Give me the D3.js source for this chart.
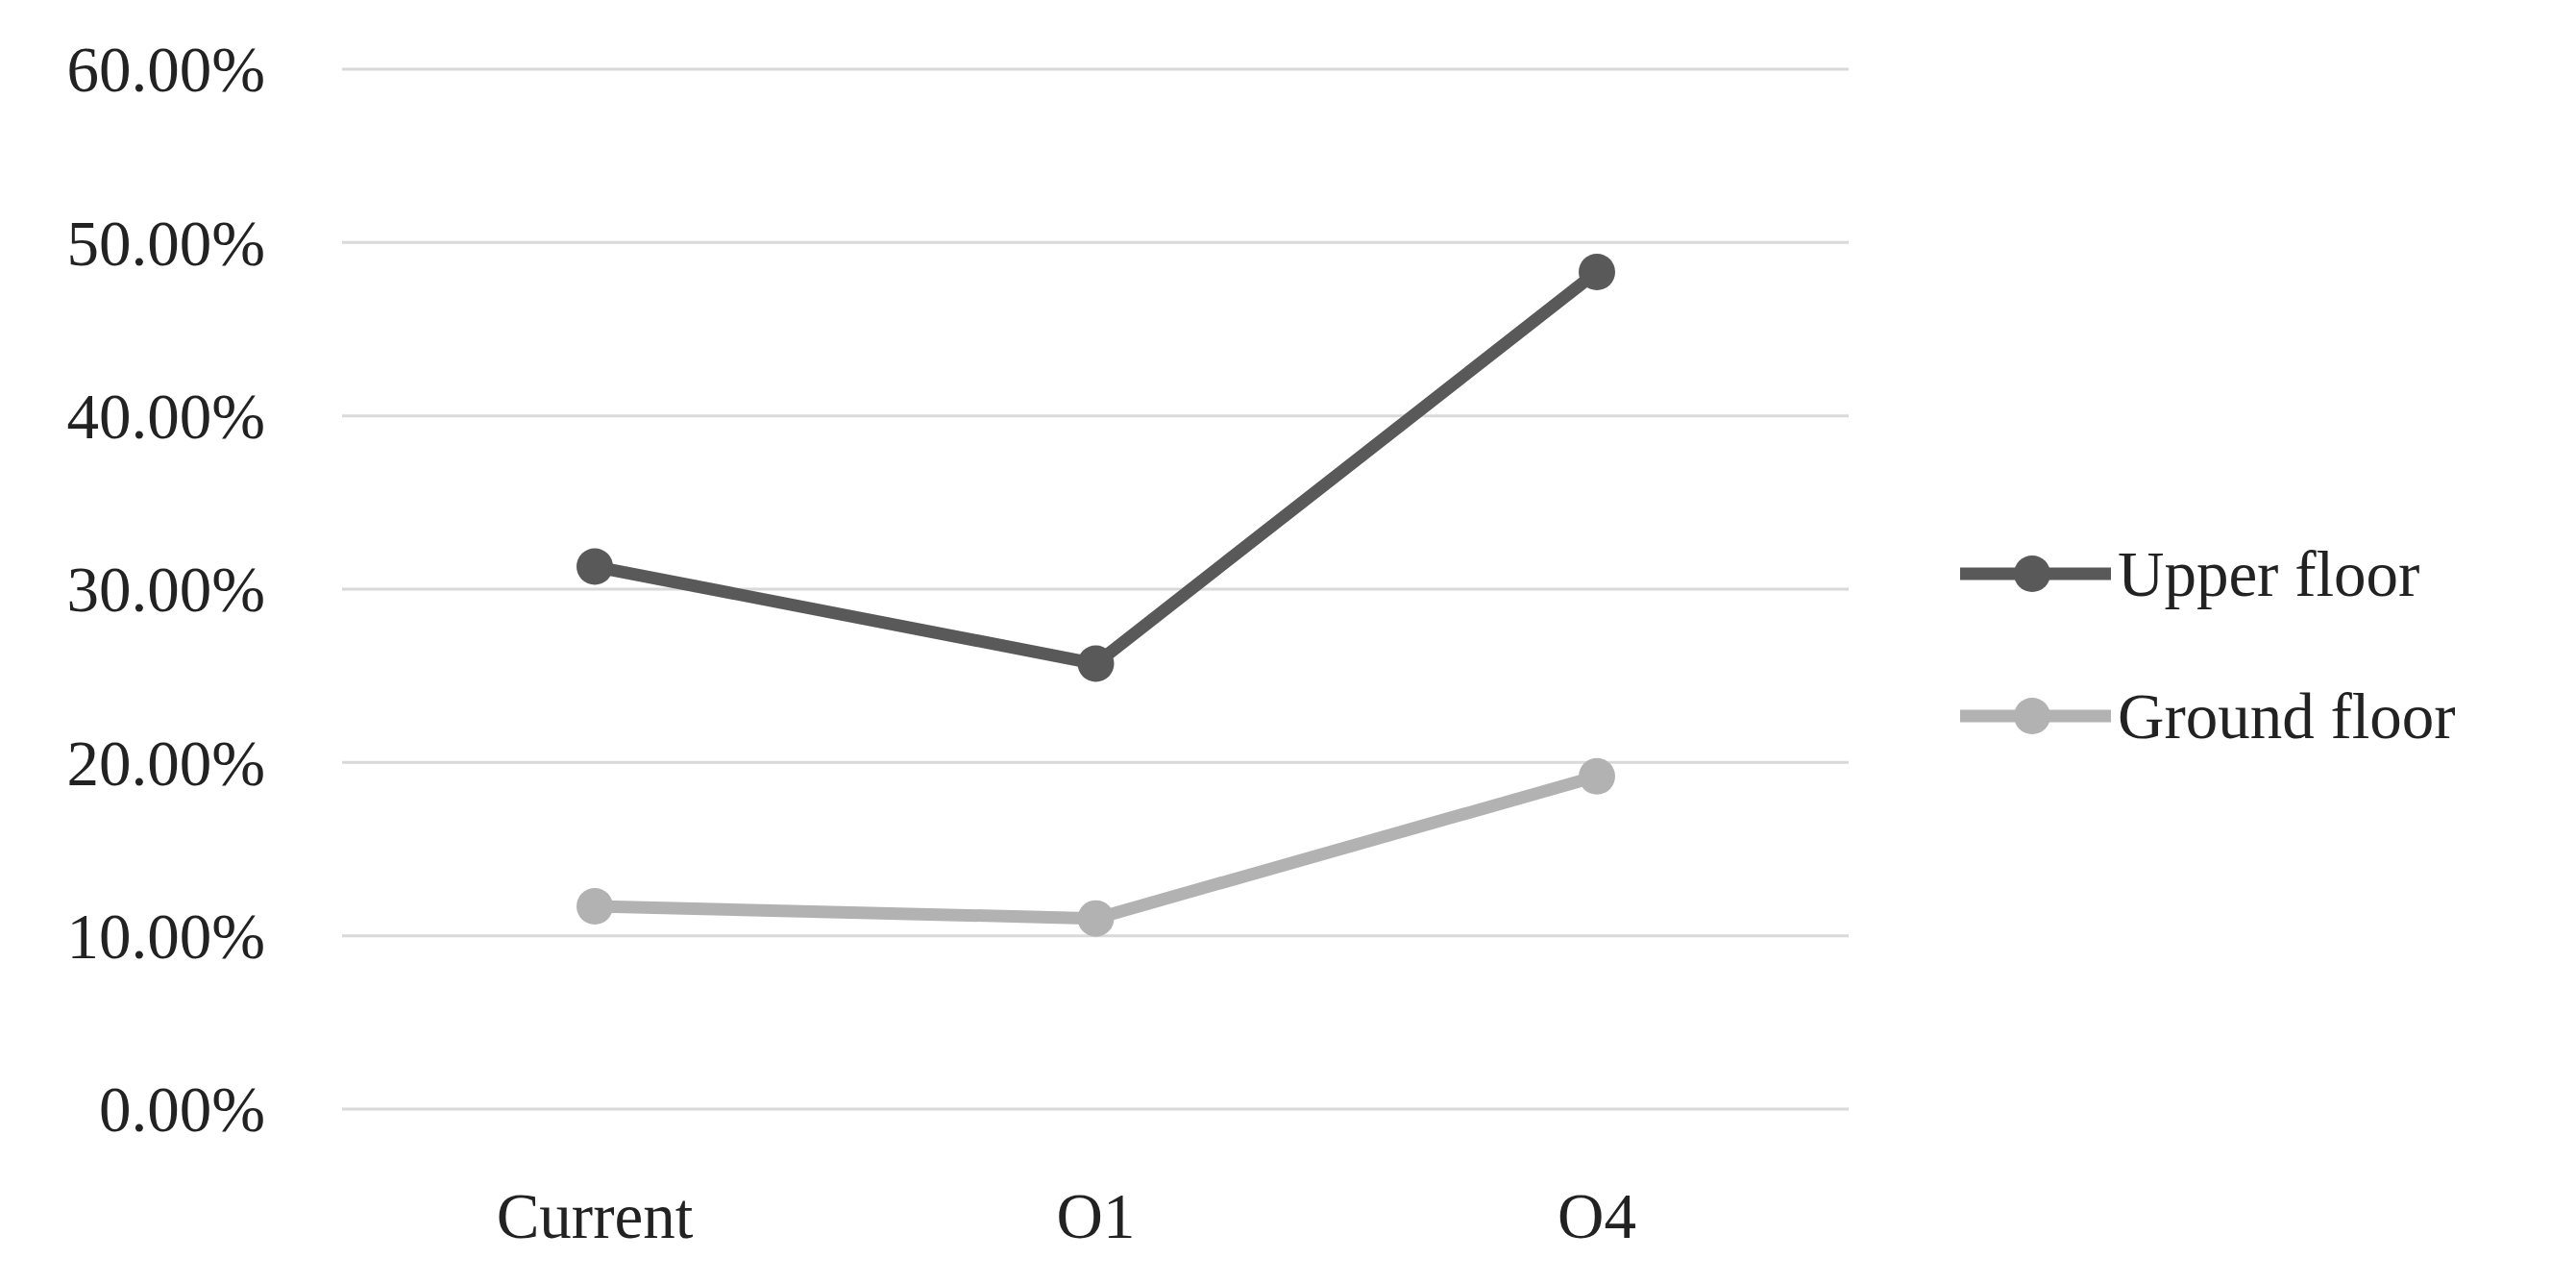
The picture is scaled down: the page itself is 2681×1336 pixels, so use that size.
<!DOCTYPE html>
<html><head><meta charset="utf-8">
<script src="https://cdn.jsdelivr.net/npm/d3@7"></script>
<style>body{margin:0;background:#fff}</style>
</head><body>
<script>
const categories = ["Current", "O1", "O4"];
const upper = [0.313, 0.257, 0.483];
const ground = [0.117, 0.110, 0.192];
const yTicks = [0, 0.1, 0.2, 0.3, 0.4, 0.5, 0.6];
const seriesNames = ["Upper floor", "Ground floor"];
const colors = ["#595959", "#b2b2b2"];

const W = 2681, H = 1336;
const font = "'Liberation Serif', 'DejaVu Serif', serif";
const fs = 67;
const svg = d3.select("body").append("svg").attr("width", W).attr("height", H);

const x = d3.scalePoint().domain(categories).range([619, 1662]);
const y = d3.scaleLinear().domain([0, 0.6]).range([1154, 72]);

svg.selectAll(".grid").data(yTicks).enter().append("line")
  .attr("x1", 356).attr("x2", 1924)
  .attr("y1", d => y(d)).attr("y2", d => y(d))
  .attr("stroke", "#d9d9d9").attr("stroke-width", 3);

svg.selectAll(".ylab").data(yTicks).enter().append("text")
  .attr("x", 276).attr("y", d => y(d)).attr("dy", "0.35em")
  .attr("text-anchor", "end").attr("font-family", font).attr("font-size", fs)
  .attr("fill", "#222").text(d => d3.format(".2%")(d));

svg.selectAll(".xlab").data(categories).enter().append("text")
  .attr("x", d => x(d)).attr("y", 1265).attr("dy", "0.35em")
  .attr("text-anchor", "middle").attr("font-family", font).attr("font-size", fs)
  .attr("fill", "#222").text(d => d);

const line = d3.line().x((d, i) => x(categories[i])).y(d => y(d));
[upper, ground].forEach((s, k) => {
  svg.append("path").datum(s).attr("d", line).attr("fill", "none")
    .attr("stroke", colors[k]).attr("stroke-width", 13).attr("stroke-linejoin", "round");
  svg.selectAll(".pt" + k).data(s).enter().append("circle")
    .attr("cx", (d, i) => x(categories[i])).attr("cy", d => y(d)).attr("r", 19)
    .attr("fill", colors[k]);
  const ly = [597, 745][k];
  svg.append("line").attr("x1", 2040).attr("x2", 2197).attr("y1", ly).attr("y2", ly)
    .attr("stroke", colors[k]).attr("stroke-width", 13);
  svg.append("circle").attr("cx", 2115).attr("cy", ly).attr("r", 19).attr("fill", colors[k]);
  svg.append("text").attr("x", 2204).attr("y", ly).attr("dy", "0.35em")
    .attr("font-family", font).attr("font-size", fs).attr("fill", "#222").text(seriesNames[k]);
});
</script>
</body></html>
